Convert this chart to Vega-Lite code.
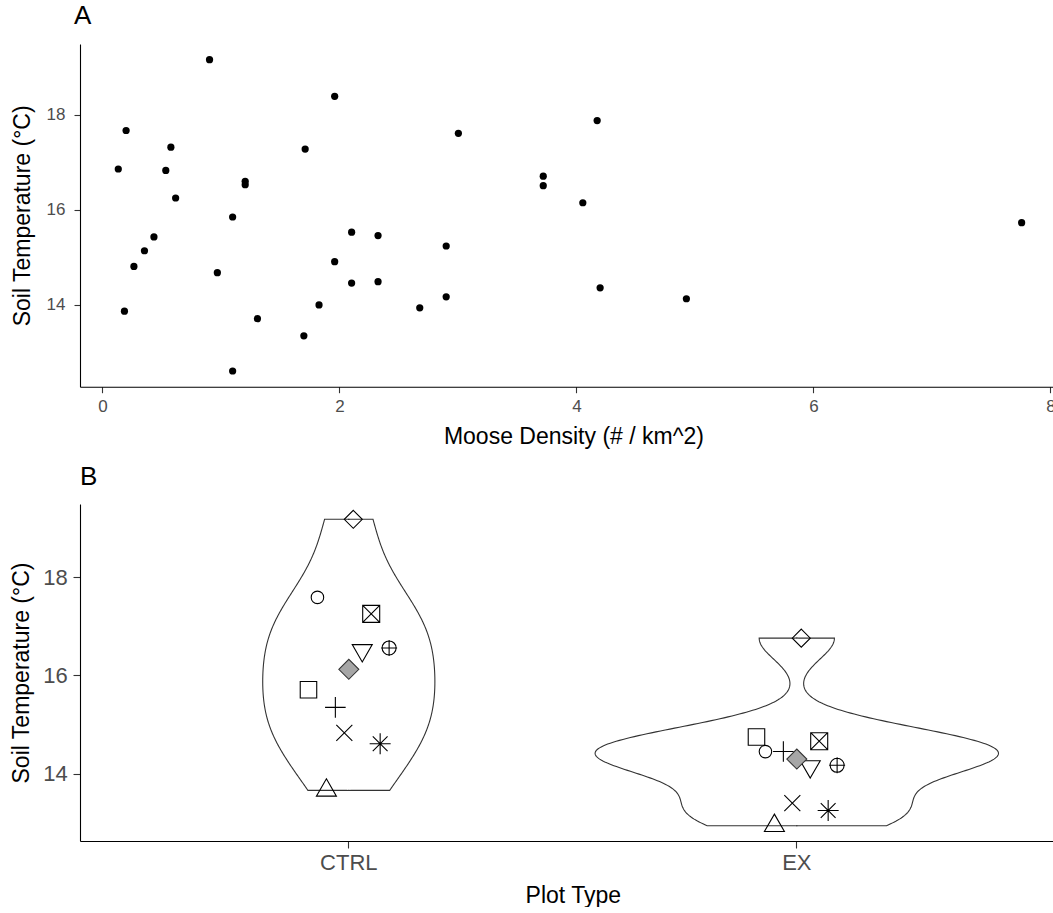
{
  "$schema": "https://vega.github.io/schema/vega-lite/v6.json",
  "background": "white",
  "padding": {"left": 10, "top": 3, "right": 0, "bottom": 0},
  "autosize": {"type": "pad"},
  "columns": 1,
  "align": "none",
  "bounds": "full",
  "spacing": 16,
  "config": {
    "font": "Liberation Sans",
    "view": {"stroke": null},
    "axis": {
      "grid": false,
      "domainColor": "#000000",
      "domainWidth": 1.1,
      "tickColor": "#333333",
      "tickWidth": 1.1,
      "labelColor": "#4d4d4d",
      "titleColor": "#000000",
      "titleFontWeight": "normal",
      "titleFontSize": 23,
      "labelFont": "Liberation Sans",
      "titleFont": "Liberation Sans"
    },
    "title": {"fontSize": 26, "fontWeight": "normal", "anchor": "start", "frame": "group", "baseline": "alphabetic", "offset": 15, "color": "#000000", "font": "Liberation Sans"}
  },
  "datasets": {
    "moose": [
      {"density": 0.134, "temp": 16.86}, {"density": 0.200, "temp": 17.67}, {"density": 0.186, "temp": 13.87},
      {"density": 0.266, "temp": 14.81}, {"density": 0.355, "temp": 15.14}, {"density": 0.435, "temp": 15.43},
      {"density": 0.535, "temp": 16.83}, {"density": 0.578, "temp": 17.32}, {"density": 0.618, "temp": 16.25},
      {"density": 0.904, "temp": 19.16}, {"density": 0.970, "temp": 14.68}, {"density": 1.099, "temp": 15.85},
      {"density": 1.099, "temp": 12.61}, {"density": 1.205, "temp": 16.60}, {"density": 1.205, "temp": 16.53},
      {"density": 1.308, "temp": 13.71}, {"density": 1.711, "temp": 17.28}, {"density": 1.700, "temp": 13.35},
      {"density": 1.828, "temp": 14.00}, {"density": 1.960, "temp": 18.39}, {"density": 1.960, "temp": 14.91},
      {"density": 2.103, "temp": 15.53}, {"density": 2.103, "temp": 14.46}, {"density": 2.326, "temp": 15.46},
      {"density": 2.326, "temp": 14.49}, {"density": 2.678, "temp": 13.94}, {"density": 2.901, "temp": 15.24},
      {"density": 2.901, "temp": 14.17}, {"density": 3.004, "temp": 17.61}, {"density": 4.175, "temp": 17.88},
      {"density": 3.720, "temp": 16.71}, {"density": 3.720, "temp": 16.51}, {"density": 4.054, "temp": 16.15},
      {"density": 4.200, "temp": 14.36}, {"density": 4.928, "temp": 14.13}, {"density": 7.757, "temp": 15.73}
    ],
    "plots": [
      {"type": "CTRL", "site": "S1", "temp": 15.71}, {"type": "CTRL", "site": "S2", "temp": 17.59},
      {"type": "CTRL", "site": "S3", "temp": 13.66}, {"type": "CTRL", "site": "S4", "temp": 15.35},
      {"type": "CTRL", "site": "S5", "temp": 14.83}, {"type": "CTRL", "site": "S6", "temp": 19.18},
      {"type": "CTRL", "site": "S7", "temp": 16.51}, {"type": "CTRL", "site": "S8", "temp": 17.255},
      {"type": "CTRL", "site": "S9", "temp": 14.61}, {"type": "CTRL", "site": "S10", "temp": 16.56},
      {"type": "EX", "site": "S1", "temp": 14.745}, {"type": "EX", "site": "S2", "temp": 14.449},
      {"type": "EX", "site": "S3", "temp": 12.94}, {"type": "EX", "site": "S4", "temp": 14.45},
      {"type": "EX", "site": "S5", "temp": 13.40}, {"type": "EX", "site": "S6", "temp": 16.76},
      {"type": "EX", "site": "S7", "temp": 14.145}, {"type": "EX", "site": "S8", "temp": 14.66},
      {"type": "EX", "site": "S9", "temp": 13.25}, {"type": "EX", "site": "S10", "temp": 14.17}
    ]
  },
  "concat": [
    {
      "title": {"text": "A", "offset": 15, "dx": -6},
      "width": 986.8,
      "height": 342.7,
      "data": {"name": "moose"},
      "mark": {"type": "circle", "size": 52, "color": "#000000", "opacity": 1},
      "encoding": {
        "x": {"field": "density", "type": "quantitative",
          "scale": {"domain": [-0.189, 8.138], "nice": false, "zero": false},
          "axis": {"values": [0, 2, 4, 6, 8], "title": "Moose Density (# / km^2)", "labelFontSize": 17, "tickSize": 6, "labelPadding": 5.3, "titlePadding": 11}},
        "y": {"field": "temp", "type": "quantitative",
          "scale": {"domain": [12.28, 19.49], "nice": false, "zero": false},
          "axis": {"values": [14, 16, 18], "title": "Soil Temperature (°C)", "labelFontSize": 17, "tickSize": 6, "labelPadding": 9, "titlePadding": 12}}
      }
    },
    {
      "title": {"text": "B", "offset": 14},
      "width": 985.6,
      "height": 337,
      "data": {"name": "plots"},
      "resolve": {"scale": {"x": "independent"}},
      "layer": [
        {
          "transform": [
            {"filter": "datum.type === 'CTRL'"},
            {"density": "temp", "bandwidth": 0.899, "steps": 200, "as": ["temp", "density"]}
          ],
          "mark": {"type": "area", "orient": "horizontal", "fill": "transparent", "stroke": "#333333", "strokeWidth": 1.1},
          "encoding": {
            "y": {"field": "temp", "type": "quantitative", "scale": {"domain": [12.628, 19.492], "nice": false, "zero": false},
              "axis": {"values": [14, 16, 18], "title": "Soil Temperature (°C)", "labelFontSize": 22, "tickSize": 7, "labelPadding": 5.7, "titlePadding": 9}},
            "x": {"field": "density", "type": "quantitative", "stack": null,
              "scale": {"domain": [0, 0.494], "range": [268.8, 470.4], "nice": false, "zero": false}, "axis": null}
          }
        },
        {
          "transform": [
            {"filter": "datum.type === 'CTRL'"},
            {"density": "temp", "bandwidth": 0.899, "steps": 200, "as": ["temp", "density"]}
          ],
          "mark": {"type": "area", "orient": "horizontal", "fill": "transparent", "stroke": "#333333", "strokeWidth": 1.1},
          "encoding": {
            "y": {"field": "temp", "type": "quantitative", "scale": {"domain": [12.628, 19.492], "nice": false, "zero": false},
              "axis": {"values": [14, 16, 18], "title": "Soil Temperature (°C)", "labelFontSize": 22, "tickSize": 7, "labelPadding": 5.7, "titlePadding": 9}},
            "x": {"field": "density", "type": "quantitative", "stack": null,
              "scale": {"domain": [0, 0.494], "range": [268.8, 67.2], "nice": false, "zero": false}, "axis": null}
          }
        },
        {
          "transform": [
            {"filter": "datum.type === 'EX'"},
            {"density": "temp", "bandwidth": 0.4328, "steps": 200, "as": ["temp", "density"]}
          ],
          "mark": {"type": "area", "orient": "horizontal", "fill": "transparent", "stroke": "#333333", "strokeWidth": 1.1},
          "encoding": {
            "y": {"field": "temp", "type": "quantitative", "scale": {"domain": [12.628, 19.492], "nice": false, "zero": false},
              "axis": {"values": [14, 16, 18], "title": "Soil Temperature (°C)", "labelFontSize": 22, "tickSize": 7, "labelPadding": 5.7, "titlePadding": 9}},
            "x": {"field": "density", "type": "quantitative", "stack": null,
              "scale": {"domain": [0, 0.494], "range": [716.8, 918.4], "nice": false, "zero": false}, "axis": null}
          }
        },
        {
          "transform": [
            {"filter": "datum.type === 'EX'"},
            {"density": "temp", "bandwidth": 0.4328, "steps": 200, "as": ["temp", "density"]}
          ],
          "mark": {"type": "area", "orient": "horizontal", "fill": "transparent", "stroke": "#333333", "strokeWidth": 1.1},
          "encoding": {
            "y": {"field": "temp", "type": "quantitative", "scale": {"domain": [12.628, 19.492], "nice": false, "zero": false},
              "axis": {"values": [14, 16, 18], "title": "Soil Temperature (°C)", "labelFontSize": 22, "tickSize": 7, "labelPadding": 5.7, "titlePadding": 9}},
            "x": {"field": "density", "type": "quantitative", "stack": null,
              "scale": {"domain": [0, 0.494], "range": [716.8, 515.2], "nice": false, "zero": false}, "axis": null}
          }
        },
        {
          "mark": {"type": "rule", "color": "#ffffff", "strokeWidth": 3, "yOffset": -0.6, "y2Offset": 0.6},
          "encoding": {
            "x": {"field": "type", "type": "nominal", "scale": {"type": "band", "domain": ["CTRL", "EX"], "paddingInner": 0, "paddingOuter": 0.1}, "axis": null},
            "y": {"aggregate": "min", "field": "temp", "type": "quantitative", "scale": {"domain": [12.628, 19.492], "nice": false, "zero": false},
              "axis": {"values": [14, 16, 18], "title": "Soil Temperature (°C)", "labelFontSize": 22, "tickSize": 7, "labelPadding": 5.7, "titlePadding": 9}},
            "y2": {"aggregate": "max", "field": "temp"}
          }
        },
        {
          "mark": {"type": "point", "filled": false, "color": "#000000", "strokeWidth": 1.1, "size": 400, "opacity": 1},
          "encoding": {
            "x": {"field": "type", "type": "nominal", "scale": {"type": "band", "domain": ["CTRL", "EX"], "paddingInner": 0, "paddingOuter": 0.1},
              "axis": {"title": "Plot Type", "labelFontSize": 22, "labelAngle": 0, "tickSize": 7, "labelPadding": 4, "titlePadding": 11}},
            "xOffset": {"field": "site", "type": "nominal", "scale": {"type": "point", "domain": ["S1", "S2", "S3", "S4", "S5", "S6", "S7", "S8", "S9", "S10"], "range": [183.68, 264.32], "padding": 0}},
            "y": {"field": "temp", "type": "quantitative", "scale": {"domain": [12.628, 19.492], "nice": false, "zero": false},
              "axis": {"values": [14, 16, 18], "title": "Soil Temperature (°C)", "labelFontSize": 22, "tickSize": 7, "labelPadding": 5.7, "titlePadding": 9}},
            "shape": {"field": "site", "type": "nominal", "legend": null,
              "scale": {"domain": ["S1", "S2", "S3", "S4", "S5", "S6", "S7", "S8", "S9", "S10"],
                "range": [
                  "M-0.825,-0.825H0.825V0.825H-0.825Z",
                  "M0.625,0A0.625,0.625,0,1,1,-0.625,0A0.625,0.625,0,1,1,0.625,0Z",
                  "M0,-1.155L1,0.577L-1,0.577Z",
                  "M-1.03,0H1.03M0,-1.03V1.03",
                  "M-0.8,-0.8L0.8,0.8M-0.8,0.8L0.8,-0.8",
                  "M0,-0.9L0.9,0L0,0.9L-0.9,0Z",
                  "M0,1.155L1,-0.577L-1,-0.577Z",
                  "M-0.85,-0.85H0.85V0.85H-0.85ZM-0.85,-0.85L0.85,0.85M-0.85,0.85L0.85,-0.85",
                  "M-1.05,0H1.05M0,-1.05V1.05M-0.74,-0.74L0.74,0.74M-0.74,0.74L0.74,-0.74",
                  "M0.7,0A0.7,0.7,0,1,1,-0.7,0A0.7,0.7,0,1,1,0.7,0ZM-0.8,0H0.8M0,-0.8V0.8"
                ]}}
          }
        },
        {
          "mark": {"type": "point", "shape": "diamond", "filled": true, "fill": "#a6a6a6", "stroke": "#333333", "strokeWidth": 1.1, "size": 400, "opacity": 1},
          "encoding": {
            "x": {"field": "type", "type": "nominal", "scale": {"type": "band", "domain": ["CTRL", "EX"], "paddingInner": 0, "paddingOuter": 0.1}, "axis": null},
            "y": {"aggregate": "mean", "field": "temp", "type": "quantitative", "scale": {"domain": [12.628, 19.492], "nice": false, "zero": false},
              "axis": {"values": [14, 16, 18], "title": "Soil Temperature (°C)", "labelFontSize": 22, "tickSize": 7, "labelPadding": 5.7, "titlePadding": 9}}
          }
        }
      ]
    }
  ]
}
